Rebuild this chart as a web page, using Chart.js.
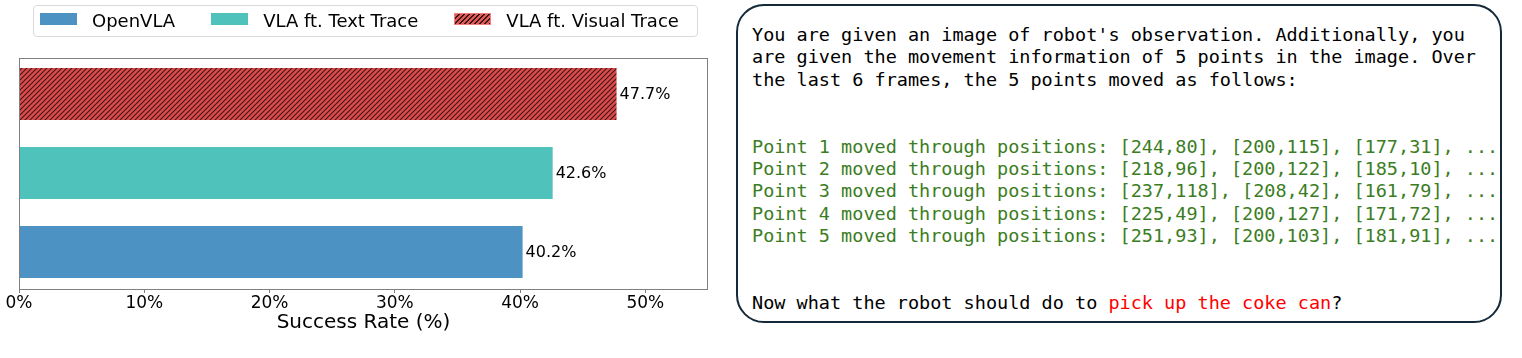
<!DOCTYPE html>
<html><head><meta charset="utf-8">
<script src="https://cdn.jsdelivr.net/npm/chart.js@4/dist/chart.umd.min.js"></script>
<style>
html,body{margin:0;padding:0;background:#fff;width:1522px;height:358px;overflow:hidden;position:relative;}
#wrap{position:absolute;left:0;top:0;width:720px;height:358px;}
#legend{position:absolute;left:33px;top:5px;width:663px;height:30px;border:1px solid #dadada;border-radius:4px;background:#fff;font-family:'DejaVu Sans';font-size:18px;color:#000;}
.sw{position:absolute;top:7px;width:37px;height:12px;box-sizing:border-box;}
.lt{position:absolute;top:0;line-height:29px;white-space:nowrap;}
#box{position:absolute;left:736px;top:4px;width:766px;height:319px;box-sizing:border-box;border:2.6px solid #14293a;border-radius:28px;}
#txt{position:absolute;left:752px;top:24.2px;margin:0;font-family:'DejaVu Sans Mono';font-size:18.5px;line-height:22.3px;white-space:pre;color:#000;}
.g{color:#3b7d23;}
.r{color:#ff0000;}
</style>
</head><body>
<div id="wrap"><canvas id="c" width="720" height="358"></canvas></div>
<div id="legend"></div>
<div id="box"></div>
<pre id="txt"></pre>
<script>
// ---- data ----
const categories = ['OpenVLA', 'VLA ft. Text Trace', 'VLA ft. Visual Trace'];
const successRates = [40.2, 42.6, 47.7];
const xTickValues = [0, 10, 20, 30, 40, 50];
const introLines = [
  "You are given an image of robot's observation. Additionally, you",
  "are given the movement information of 5 points in the image. Over",
  "the last 6 frames, the 5 points moved as follows:"
];
const pointLines = [
  "Point 1 moved through positions: [244,80], [200,115], [177,31], ...",
  "Point 2 moved through positions: [218,96], [200,122], [185,10], ...",
  "Point 3 moved through positions: [237,118], [208,42], [161,79], ...",
  "Point 4 moved through positions: [225,49], [200,127], [171,72], ...",
  "Point 5 moved through positions: [251,93], [200,103], [181,91], ..."
];
const questionPrefix = "Now what the robot should do to ";
const questionTask = "pick up the coke can";
const questionSuffix = "?";

// ---- styles ----
const BLUE = '#4c92c3', TEAL = '#4fc3bb', RED = '#dc4b4b', HATCH = '#3a1616';
function makeHatch(){
  const s = 5, c = document.createElement('canvas');
  c.width = s; c.height = s;
  const g = c.getContext('2d');
  g.fillStyle = RED; g.fillRect(0,0,s,s);
  g.strokeStyle = HATCH; g.lineWidth = 1.05;
  g.beginPath();
  g.moveTo(-1,1); g.lineTo(1,-1);
  g.moveTo(0,s); g.lineTo(s,0);
  g.moveTo(s-1,s+1); g.lineTo(s+1,s-1);
  g.stroke();
  return g.createPattern(c,'repeat');
}
const fills = [BLUE, TEAL, makeHatch()];

// ---- legend (HTML) ----
const legend = document.getElementById('legend');
const swCss = [
  'background:'+BLUE+';',
  'background:'+TEAL+';',
  'background:repeating-linear-gradient(-45deg,'+HATCH+' 0 1.1px,#e05a5a 1.1px 3.5px);border:1px solid #f08080;'
];
const mctx = document.createElement('canvas').getContext('2d');
mctx.font = "18px 'DejaVu Sans'";
let lx = 6;
categories.forEach((name,i)=>{
  const sw = document.createElement('div');
  sw.className = 'sw'; sw.style.cssText = swCss[i]; sw.style.left = lx+'px';
  legend.appendChild(sw);
  const t = document.createElement('div');
  t.className = 'lt'; t.textContent = name; t.style.left = (lx+37+15)+'px';
  legend.appendChild(t);
  lx += 37 + 15 + mctx.measureText(name).width + 36;
});

// ---- text panel ----
const esc = s => s.replace(/&/g,'&amp;').replace(/</g,'&lt;');
document.getElementById('txt').innerHTML =
  introLines.map(esc).join('\n') + '\n\n\n' +
  pointLines.map(l => '<span class="g">'+esc(l)+'</span>').join('\n') + '\n\n\n' +
  esc(questionPrefix) + '<span class="r">'+esc(questionTask)+'</span>' + esc(questionSuffix);

// ---- chart ----
const framePlugin = {
  id: 'frame',
  afterDraw(chart){
    const {ctx, chartArea:a} = chart;
    ctx.save();
    ctx.strokeStyle = '#808080'; ctx.lineWidth = 1;
    ctx.strokeRect(Math.round(a.left)+0.5, Math.round(a.top)+0.5, Math.round(a.right-a.left)-1, Math.round(a.bottom-a.top));
    ctx.restore();
  }
};
const valueLabels = {
  id: 'valueLabels',
  afterDatasetsDraw(chart){
    const ctx = chart.ctx;
    const meta = chart.getDatasetMeta(0);
    ctx.save();
    ctx.font = "16px 'DejaVu Sans'";
    ctx.fillStyle = '#000';
    ctx.textAlign = 'left'; ctx.textBaseline = 'middle';
    meta.data.forEach((bar,i)=>{
      ctx.fillText(successRates[i].toFixed(1)+'%', bar.x + 3, bar.y + 0.5);
    });
    ctx.restore();
  }
};

new Chart(document.getElementById('c'), {
  type: 'bar',
  data: {
    datasets: [{
      label: 'Success Rate',
      data: successRates.map((v,i)=>({x:v, y:i})),
      backgroundColor: fills,
      borderWidth: 0,
      barPercentage: 0.658,
      categoryPercentage: 1.0
    }]
  },
  options: {
    indexAxis: 'y',
    responsive: false,
    animation: false,
    events: [],
    layout: { padding: { left: 19, right: 12, top: 58, bottom: 17 } },
    plugins: { legend: { display: false }, tooltip: { enabled: false } },
    scales: {
      y: { type: 'linear', min: -0.468, max: 2.456, bounds: 'data', offset: false, display: false,
           grid: { offset: false },
           afterBuildTicks: s => { s.ticks = categories.map((c,i) => ({value: i})); } },
      x: {
        type: 'linear', min: 0, max: 55,
        afterBuildTicks: s => { s.ticks = xTickValues.map(v => ({value: v})); },
        afterFit: s => { s.height = 52; },
        border: { display: false },
        grid: { display: true, drawOnChartArea: false, drawTicks: true, tickLength: 4, color: '#808080' },
        ticks: { color: '#000', font: { family: 'DejaVu Sans', size: 17 }, padding: 0, maxRotation: 0,
                 callback: v => v + '%' },
        title: { display: true, text: 'Success Rate (%)', color: '#000',
                 font: { family: 'DejaVu Sans', size: 20 }, padding: { top: 0, bottom: 6 } }
      }
    }
  },
  plugins: [framePlugin, valueLabels]
});
</script>
</body></html>
